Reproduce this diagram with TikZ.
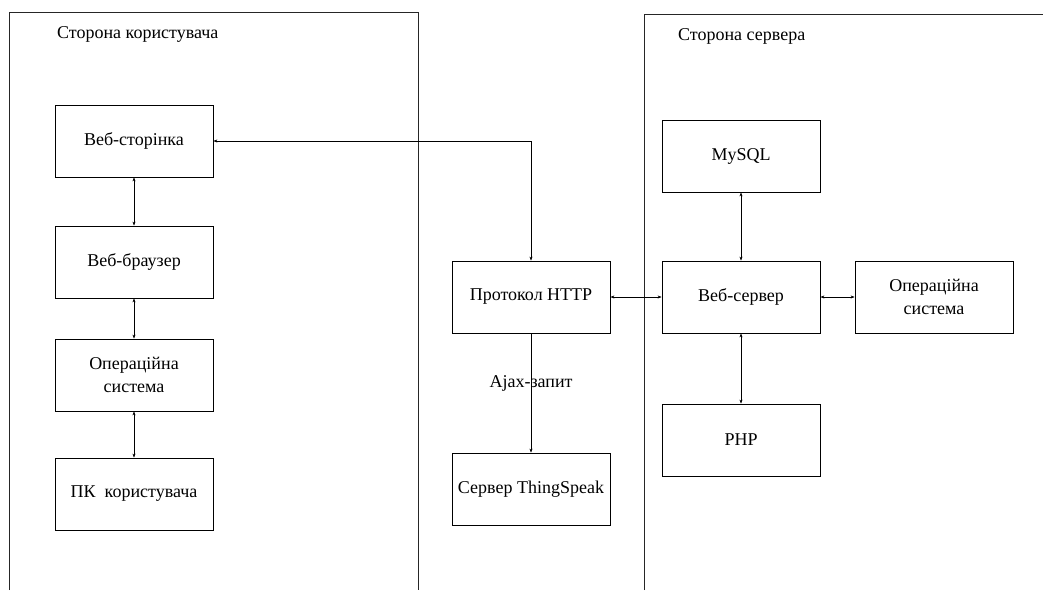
\documentclass[tikz,border=0pt]{standalone}
\usepackage{fontspec}
\setmainfont{Liberation Serif}
\usetikzlibrary{arrows.meta}
\begin{document}
\begin{tikzpicture}[x=1pt,y=-1pt,
  blk/.style={draw, line width=0.8pt, minimum width=158pt, minimum height=72pt, align=center, font=\fontsize{18}{23}\selectfont, inner sep=0pt},
  frame/.style={draw=black!85, line width=1pt},
  conn/.style={line width=0.6pt, {Stealth[length=4pt,width=3pt]}-{Stealth[length=4pt,width=3pt]}},
  lbl/.style={font=\fontsize{18}{23}\selectfont, inner sep=0pt}]
\useasboundingbox (0,0) rectangle (1043,590);
\draw[frame] (9,590) -- (9,12) -- (418,12) -- (418,590);
\draw[frame] (644,590) -- (644,14) -- (1043,14);
\node[lbl, anchor=west] (tl) at (57,34) {Сторона користувача};
\node[lbl, anchor=west] (tr) at (678,36) {Сторона сервера};
\node[blk] (ws) at (134,141) {Веб-сторінка};
\node[blk] (wb) at (134,262) {Веб-браузер};
\node[blk] (osl) at (134,375) {Операційна\\система};
\node[blk] (pc) at (134,494) {ПК\ \ користувача};
\node[blk] (http) at (531,297) {Протокол HTTP};
\node[blk] (ts) at (531,489) {Сервер ThingSpeak};
\node[blk] (my) at (741,156) {MySQL};
\node[blk] (srv) at (741,297) {Веб-сервер};
\node[blk] (php) at (741,440) {PHP};
\node[blk] (osr) at (934,297) {Операційна\\система};
\draw[conn] (ws.east) -| (http.north);
\draw[conn] (ws) -- (wb);
\draw[conn] (wb) -- (osl);
\draw[conn] (osl) -- (pc);
\draw[conn] (http) -- (srv);
\draw[conn] (srv) -- (osr);
\draw[conn] (my) -- (srv);
\draw[conn] (srv) -- (php);
\draw[line width=0.6pt, -{Stealth[length=4pt,width=3pt]}] (http) -- (ts);
\node[lbl] (aj) at (531,383) {Ajax-запит};
\end{tikzpicture}
\end{document}
